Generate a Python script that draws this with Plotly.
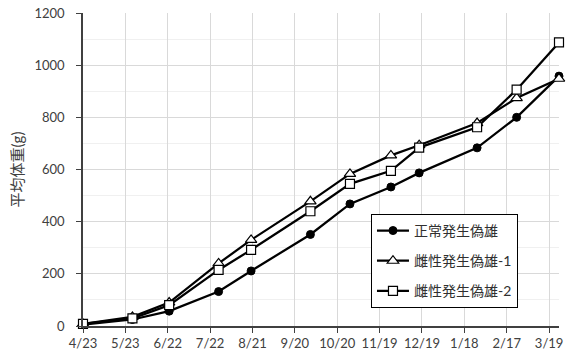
import plotly.graph_objects as go

# Sampling dates (growth survey)
dates = ["2018-04-23", "2018-05-28", "2018-06-23", "2018-07-28", "2018-08-20",
         "2018-10-01", "2018-10-29", "2018-11-27", "2018-12-17", "2019-01-27",
         "2019-02-24", "2019-03-26"]

# Mean body weight (g) per group
normal_male = [5, 25, 57, 132, 211, 351, 468, 533, 587, 683, 800, 958]
sex_reversed_1 = [8, 35, 90, 240, 330, 478, 583, 654, 693, 778, 874, 948]
sex_reversed_2 = [8, 29, 80, 215, 292, 440, 545, 595, 684, 762, 906, 1087]

series_names = ["正常発生偽雄", "雌性発生偽雄-1", "雌性発生偽雄-2"]

FONT = "Lato, 'Noto Sans CJK JP', sans-serif"
TEXT_COLOR = "#404040"

fig = go.Figure()

styles = [
    dict(symbol="circle", size=8, color="black", line=dict(color="black", width=1)),
    dict(symbol="triangle-up", size=10, color="white", line=dict(color="black", width=1.2)),
    dict(symbol="square", size=9, color="white", line=dict(color="black", width=1.2)),
]

for name, values, marker in zip(series_names, [normal_male, sex_reversed_1, sex_reversed_2], styles):
    fig.add_trace(go.Scatter(
        x=dates, y=values, name=name, mode="lines+markers",
        line=dict(color="black", width=2.25),
        marker=marker, legendgroup=name, cliponaxis=False,
    ))

fig.update_layout(
    width=568, height=358,
    margin=dict(l=83, r=5, t=13, b=32),
    paper_bgcolor="white", plot_bgcolor="white",
    font=dict(family=FONT, size=13, color=TEXT_COLOR),
    showlegend=True,
    legend=dict(
        x=0.605, y=0.358, xanchor="left", yanchor="top",
        bgcolor="white", bordercolor="black", borderwidth=1,
        font=dict(family=FONT, size=14, color="#303030"),
        traceorder="grouped", tracegroupgap=9,
        itemwidth=32,
    ),
)

fig.update_xaxes(
    type="date",
    range=["2018-04-23", "2019-03-26"],
    tick0="2018-04-23", dtick=30 * 86400000,
    tickformat="%-m/%-d",
    showgrid=True, gridcolor="#d9d9d9", gridwidth=1,
    showline=True, linecolor="#404040", linewidth=1.5,
    ticks="outside", ticklen=5, tickcolor="#404040",
    zeroline=False,
    tickfont=dict(family=FONT, size=13, color=TEXT_COLOR),
)

fig.update_yaxes(
    range=[0, 1200], dtick=200,
    showgrid=True, gridcolor="#d9d9d9", gridwidth=1,
    minor=dict(dtick=100, showgrid=True, gridcolor="#f0f0f0", gridwidth=1),
    showline=True, linecolor="#404040", linewidth=1.5,
    ticks="outside", ticklen=5, tickcolor="#404040",
    ticklabelstandoff=9,
    zeroline=False,
    tickfont=dict(family=FONT, size=13, color=TEXT_COLOR),
    title=dict(text="平均体重(g)", standoff=7,
               font=dict(family=FONT, size=15, color=TEXT_COLOR)),
)

fig.write_html("out.html")
